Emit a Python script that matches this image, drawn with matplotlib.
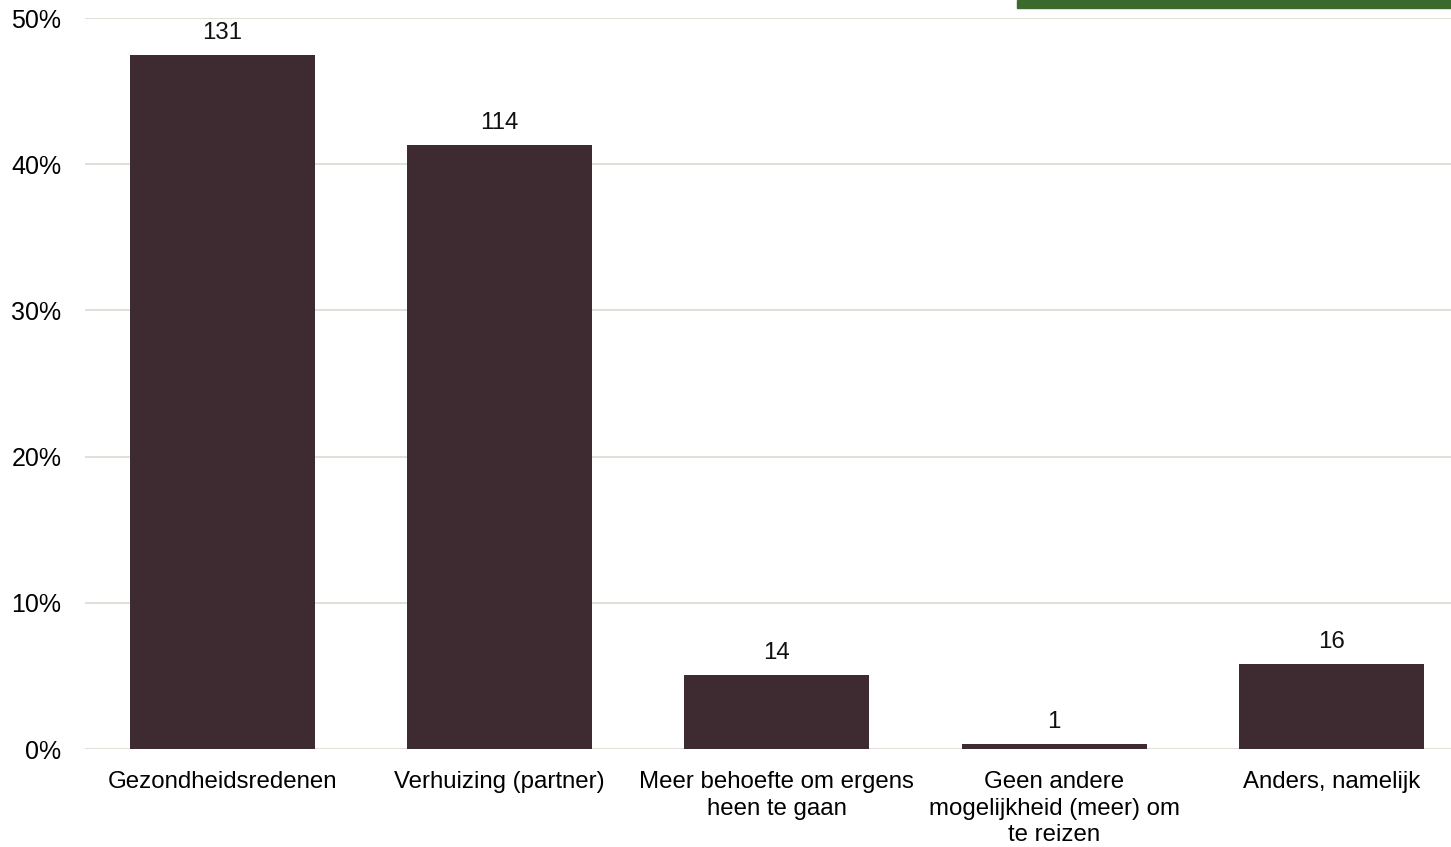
import numpy as np
import matplotlib.pyplot as plt
from matplotlib.patches import Rectangle
from matplotlib.ticker import PercentFormatter

categories = ['Gezondheidsredenen', 'Verhuizing (partner)', 'Meer behoefte om ergens\nheen te gaan',
              'Geen andere\nmogelijkheid (meer) om\nte reizen', 'Anders, namelijk']
counts = [131, 114, 14, 1, 16]
yticks = [0, 0.1, 0.2, 0.3, 0.4, 0.5]

total = sum(counts)
shares = [c / total for c in counts]

plt.rcParams['font.family'] = ['Liberation Sans', 'DejaVu Sans']

fig = plt.figure(figsize=(14.51, 8.47), dpi=100)
ax = fig.add_axes([85 / 1451, 1 - 749 / 847, 1 - 85 / 1451, (749 - 18) / 847])

x = np.arange(len(categories))
ax.bar(x, shares, width=0.667, color='#3e2b31', zorder=3)
for xi, s, c in zip(x, shares, counts):
    ax.annotate(str(c), (xi, s), xytext=(0, 8), textcoords='offset points',
                ha='center', va='bottom', fontsize=17.3, color='#111111')

ax.set_xlim(-0.494, 4.43)
ax.set_ylim(0, 0.5)
ax.set_yticks(yticks)
ax.yaxis.set_major_formatter(PercentFormatter(1.0, decimals=0))
ax.set_xticks(x)
ax.set_xticklabels(categories, fontsize=17.3, linespacing=1.27)
ax.tick_params(axis='y', labelsize=18, length=0, pad=17)
ax.tick_params(axis='x', length=0, pad=16)
ax.grid(axis='y', color='#dcd9d0', linewidth=1.2, zorder=0)
for sp in ax.spines.values():
    sp.set_visible(False)

# cut-off green box at the top right of the scan
fig.patches.append(Rectangle((1017 / 1451, 1 - 8 / 847), 434 / 1451, 8 / 847,
                             transform=fig.transFigure, color='#3b6a2c', zorder=5))

fig.savefig('out.png', dpi=100)
